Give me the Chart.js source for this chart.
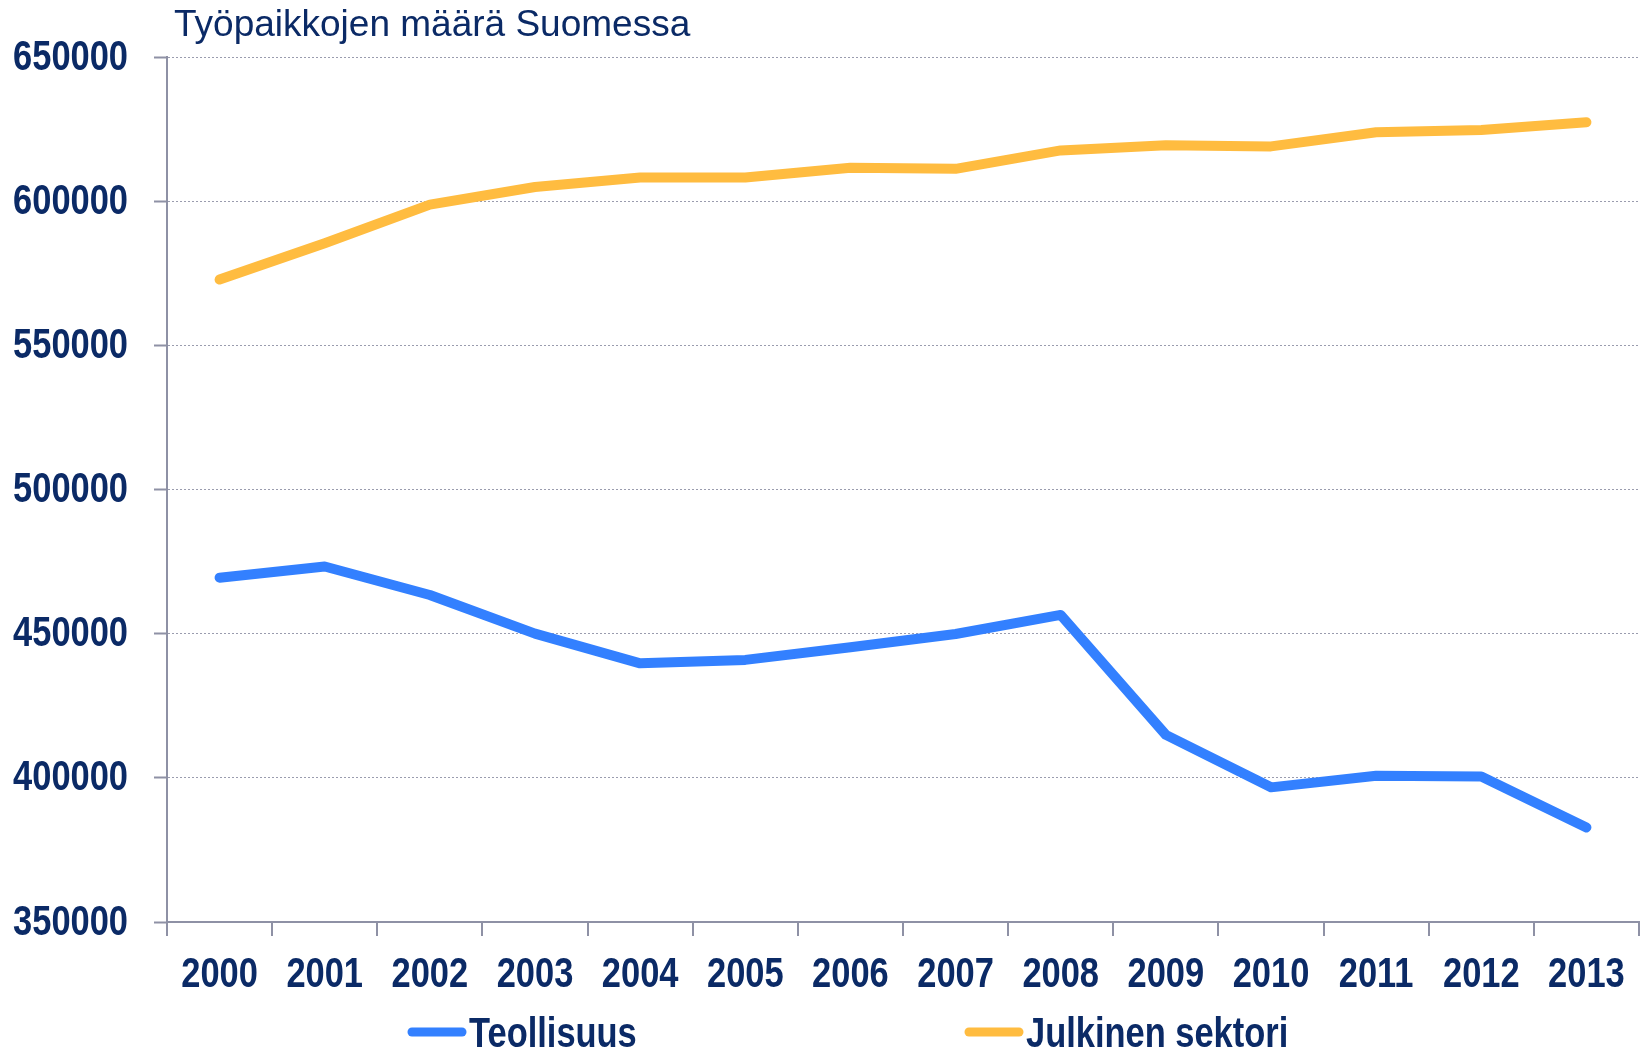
<!DOCTYPE html>
<html>
<head>
<meta charset="utf-8">
<script src="https://cdn.jsdelivr.net/npm/chart.js@4/dist/chart.umd.min.js"></script>
<style>
  html, body { margin: 0; padding: 0; background: #fff; }
  #wrap { width: 1642px; height: 1051px; position: relative; }
</style>
</head>
<body>
<div id="wrap"><canvas id="myCanvas"></canvas></div>
<script>
const years = ['2000','2001','2002','2003','2004','2005','2006','2007','2008','2009','2010','2011','2012','2013'];
const teollisuus = [469400, 473300, 463400, 450000, 439700, 440900, 445300, 449900, 456500, 414900, 396700, 400700, 400500, 382800];
const julkinen = [572800, 585400, 598800, 604900, 608200, 608200, 611600, 611200, 617600, 619400, 619000, 623900, 624700, 627400];
const seriesNames = ['Teollisuus', 'Julkinen sektori'];
const seriesColors = ['#3380FF', '#FFBC40'];
const yTicks = [350000, 400000, 450000, 500000, 550000, 600000, 650000];
const chartTitle = 'Työpaikkojen määrä Suomessa';

const navy = '#0B2A66';
const axisGray = '#8E91A5';
const boldFont = "bold 42px 'Liberation Sans', Arial, sans-serif";
const squeeze = 0.82; // fake a narrow bold face

// squeezed text helper
function narrowText(ctx, text, x, y, align) {
    ctx.save();
    ctx.translate(x, y);
    ctx.scale(squeeze, 1);
    ctx.textAlign = align;
    ctx.fillText(text, 0, 0);
    ctx.restore();
}

// title, tick labels and legend drawn by hand
const extras = {
    id: 'extras',
    afterDraw(chart) {
        const ctx = chart.ctx;
        const xs = chart.scales.x;
        const ys = chart.scales.y;
        ctx.save();
        ctx.fillStyle = navy;
        ctx.textBaseline = 'middle';
        ctx.font = "37px 'Liberation Sans', Arial, sans-serif";
        ctx.textAlign = 'left';
        ctx.fillText(chartTitle, 174, 26);

        ctx.font = boldFont;
        yTicks.forEach(v => {
            narrowText(ctx, String(v), 128, ys.getPixelForValue(v) + 1, 'right');
        });
        chart.data.labels.forEach((lab, i) => {
            narrowText(ctx, lab, xs.getPixelForValue(i), 975, 'center');
        });

        const legendX = [408, 965];
        const legendY = 1032;
        chart.data.datasets.forEach((ds, i) => {
            const x = legendX[i];
            ctx.strokeStyle = ds.borderColor;
            ctx.lineWidth = 9;
            ctx.lineCap = 'round';
            ctx.beginPath();
            ctx.moveTo(x + 4, legendY);
            ctx.lineTo(x + 54, legendY);
            ctx.stroke();
            ctx.fillStyle = navy;
            narrowText(ctx, ds.label, x + 61, legendY + 3, 'left');
        });
        ctx.restore();
    }
};

const dataConfig = {
    labels: years,
    datasets: [
        { label: seriesNames[0], data: teollisuus, borderColor: seriesColors[0], backgroundColor: seriesColors[0] },
        { label: seriesNames[1], data: julkinen, borderColor: seriesColors[1], backgroundColor: seriesColors[1] }
    ]
};

const config = {
    type: 'line',
    data: dataConfig,
    options: {
        responsive: true,
        maintainAspectRatio: false,
        animation: false,
        layout: { padding: { left: 0, right: 3, top: 57, bottom: 0 } },
        elements: {
            line: { borderWidth: 10, borderCapStyle: 'round', borderJoinStyle: 'round', tension: 0 },
            point: { radius: 0, hoverRadius: 0 }
        },
        plugins: {
            legend: { display: false },
            title: { display: false },
            tooltip: { enabled: false }
        },
        scales: {
            x: {
                offset: true,
                afterFit: (scale) => { scale.height = 129; },
                grid: { offset: true, drawOnChartArea: false, color: axisGray, lineWidth: 2, tickLength: 14 },
                border: { color: axisGray, width: 2 },
                ticks: { display: false, autoSkip: false }
            },
            y: {
                min: 350000,
                max: 650000,
                afterBuildTicks: (axis) => { axis.ticks = yTicks.map(v => ({ value: v })); },
                afterFit: (scale) => { scale.width = 167; },
                grid: { color: '#9A9CAE', lineWidth: 1, tickLength: 13, tickColor: axisGray, tickWidth: 2 },
                border: { color: axisGray, width: 2, dash: [2, 2] },
                ticks: { display: false }
            }
        }
    },
    plugins: [extras]
};

const myChart = new Chart(document.getElementById('myCanvas'), config);
</script>
</body>
</html>
